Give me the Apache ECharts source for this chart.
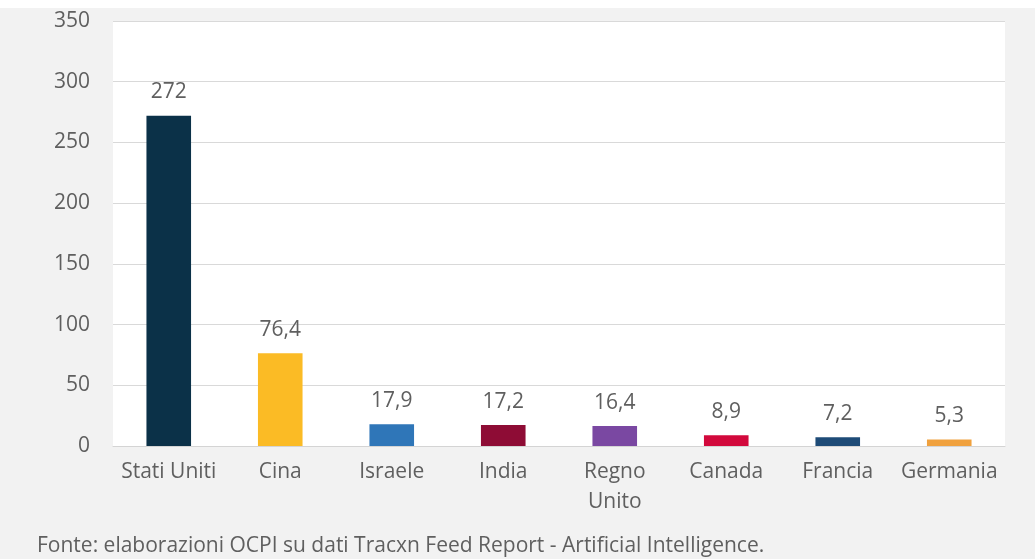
<!DOCTYPE html>
<html>
<head>
<meta charset="utf-8">
<script src="https://cdn.jsdelivr.net/npm/echarts@6/dist/echarts.min.js"></script>
<style>
  html, body { margin: 0; padding: 0; background: #f2f2f2; }
  #chart { width: 1035px; height: 559px; }
</style>
</head>
<body>
<div id="chart"></div>
<script>
// Countries and their values
const categories = ['Stati Uniti', 'Cina', 'Israele', 'India', 'Regno\nUnito', 'Canada', 'Francia', 'Germania'];
const values = [272, 76.4, 17.9, 17.2, 16.4, 8.9, 7.2, 5.3];
const barColors = ['#0b3148', '#fbbb25', '#2f76b8', '#8e0c35', '#7a48a2', '#d2093c', '#1e4b77', '#f0a13e'];
const yTicks = { min: 0, max: 350, interval: 50 };
const sourceNote = 'Fonte: elaborazioni OCPI su dati Tracxn Feed Report - Artificial Intelligence.';

const FONT = '"Open Sans", Lato, sans-serif';
const TEXT = '#5f5f5f';
const FS = 21;

const chart = echarts.init(document.getElementById('chart'), null, { renderer: 'canvas' });

chart.setOption({
  backgroundColor: '#f2f2f2',
  animation: false,
  textStyle: { fontFamily: FONT },
  graphic: [
    { type: 'rect', left: 0, top: 0, shape: { width: 1035, height: 8 }, style: { fill: '#ffffff' }, z: -1 },
    { type: 'text', left: 37, top: 536, style: { text: sourceNote, font: '21px ' + FONT, fill: TEXT } }
  ],
  grid: {
    left: 113, right: 30, top: 21, bottom: 113,
    show: true, backgroundColor: '#ffffff', borderWidth: 0
  },
  xAxis: {
    type: 'category',
    data: categories,
    axisTick: { show: false },
    axisLine: { lineStyle: { color: '#d4d4d4', width: 1 } },
    axisLabel: { interval: 0, color: TEXT, fontSize: FS, fontFamily: FONT, margin: 11, lineHeight: 30 }
  },
  yAxis: {
    type: 'value',
    min: yTicks.min, max: yTicks.max, interval: yTicks.interval,
    axisLine: { show: false },
    axisTick: { show: false },
    splitLine: { lineStyle: { color: '#d9d9d9', width: 1 } },
    axisLabel: { color: TEXT, fontSize: FS, fontFamily: FONT, margin: 23 }
  },
  series: [{
    type: 'bar',
    barWidth: '40%',
    data: values.map((v, i) => ({ value: v, itemStyle: { color: barColors[i] } })),
    label: {
      show: true, position: 'top', distance: 13,
      color: TEXT, fontSize: FS, fontFamily: FONT,
      formatter: p => String(p.value).replace('.', ',')
    }
  }]
});
</script>
</body>
</html>
